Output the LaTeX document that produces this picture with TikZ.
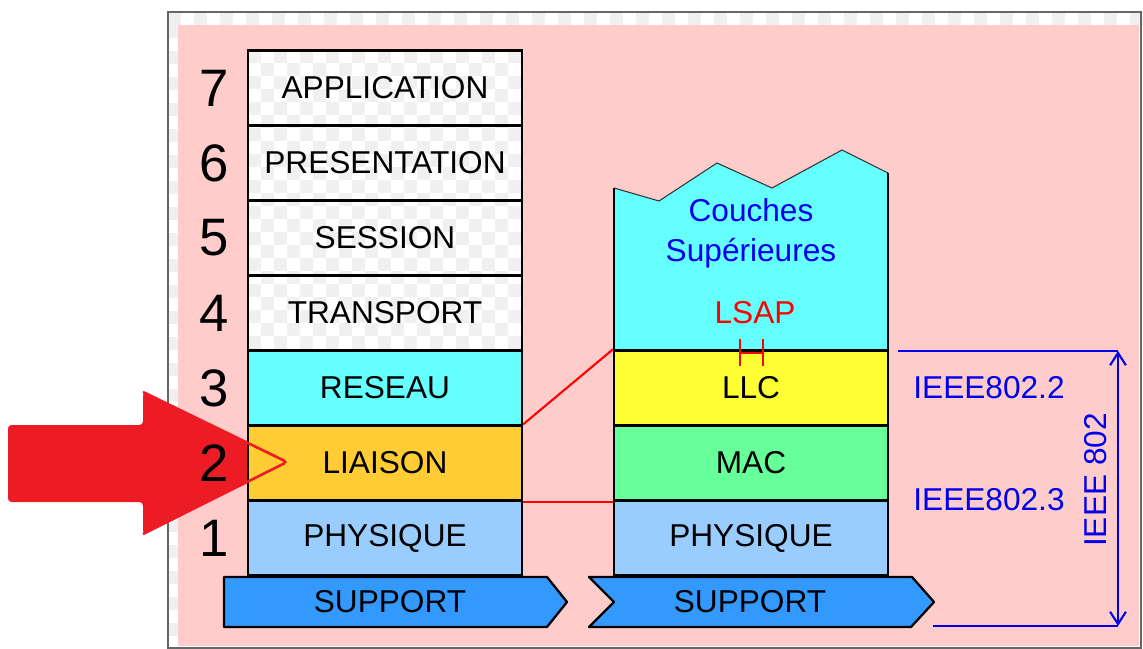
\documentclass[tikz,border=0pt]{standalone}
\usepackage{fontspec}
\setmainfont{Liberation Sans}
\usetikzlibrary{arrows.meta}
\definecolor{pinkbg}{HTML}{FFCCCC}
\definecolor{cyanl}{HTML}{66FFFF}
\definecolor{orangel}{HTML}{FFCC33}
\definecolor{bluel}{HTML}{99CCFF}
\definecolor{yellowl}{HTML}{FFFF33}
\definecolor{greenl}{HTML}{66FF99}
\definecolor{supblue}{HTML}{3399FF}
\definecolor{arrowred}{HTML}{ED1C24}
\definecolor{ieeeblue}{HTML}{0000EE}

\begin{document}
\begin{tikzpicture}[x=0.02cm, y=-0.02cm,
  layer/.style={draw, line width=1.3pt, minimum width=5.48cm, minimum height=1.5cm,
                inner sep=0pt, font=\fontsize{18}{22}\selectfont},
  num/.style={font=\fontsize{30}{34}\selectfont},
  lbl/.style={font=\fontsize{18}{22.7}\selectfont},
  checker/.style={fill=black!6},
  support/.style={draw, line width=1.3pt, fill=supblue, line join=round}]
\useasboundingbox (0,0) rectangle (1143,649);

% cadre
\fill[white] (168,12) rectangle (1141,648);
\foreach \i in {0,2,...,74}
    \fill[checker] (168+13*\i,12) rectangle ++(13,13);
\foreach \j in {1,3,...,48}
    \fill[checker] (168,12+13*\j) rectangle ++(10,13);
\draw[black!60, line width=1pt] (168,12) rectangle (1141,648);
\fill[pinkbg] (178,25) rectangle (1139,646);

% grosse fleche
\fill[arrowred, rounded corners=2pt] (8,425) -- (143,425) -- (143,392) -- (287,462)
    -- (143,534) -- (143,502) -- (8,502) -- cycle;

% couches hautes (damier)
\fill[white] (248,50) rectangle (522,351);
\begin{scope}
\clip (248,50) rectangle (522,351);
\foreach \i in {0,...,21}
  \foreach \j in {0,...,23} {
    \pgfmathtruncatemacro\k{mod(\i+\j,2)}
    \ifnum\k=0 \fill[checker] (248+13*\i,50+13*\j) rectangle ++(13,13); \fi
  }
\end{scope}

\foreach \n/\y/\lab in {7/88/APPLICATION, 6/163/PRESENTATION,
                        5/238/SESSION, 4/313/TRANSPORT}
    \node[layer] (l\n) at (385,\y) {\lab};
\foreach \n/\y/\lab/\col in {3/388/RESEAU/cyanl, 2/463/LIAISON/orangel,
                             1/538/PHYSIQUE/bluel}
    \node[layer, fill=\col] (l\n) at (385,\y) {\lab};

\draw[arrowred, line width=1.5pt, rounded corners=2pt] (143,392) -- (287,462) -- (143,534);

\foreach \n/\y in {7/88, 6/163, 5/238, 4/313, 3/388, 2/463, 1/538}
    \node[num] (d\n) at (214,\y) {\n};

% pile IEEE 802
\fill[cyanl] (614,351) -- (614,188) -- (659,201) -- (717,163) -- (772,188)
    -- (842,150) -- (888,173) -- (888,351) -- cycle;
\draw[black!80, line width=0.6pt] (614,188) -- (659,201) -- (717,163) -- (772,188)
    -- (842,150) -- (888,173);
\draw[line width=1.3pt] (614,351) -- (614,188) (888,173) -- (888,351);

\foreach \nm/\y/\lab/\col in {llc/388/LLC/yellowl, mac/463/MAC/greenl,
                              phy/538/PHYSIQUE/bluel}
    \node[layer, fill=\col] (\nm) at (751,\y) {\lab};

\node[lbl, text=ieeeblue, align=center] (sup) at (751,233) {Couches\\Supérieures};
\node[lbl, text=red] (lsap) at (755,313) {LSAP};
\draw[red, line width=1.2pt] (740,339) -- (740,366) (763,339) -- (763,366)
    (740,353) -- (763,353);

% supports
\draw[support] (224,577) -- (547,577) -- (567,602) -- (547,627) -- (224,627) -- cycle;
\node[lbl] (supg) at (390,602) {SUPPORT};
\draw[support] (589,577) -- (912,577) -- (934,602) -- (911,627) -- (589,627)
    -- (614,602) -- cycle;
\node[lbl] (supd) at (750,602) {SUPPORT};

% correspondance
\draw[red, line width=1.2pt] (l2.north east) -- (llc.north west);
\draw[red, line width=1.2pt] (l2.south east) -- (mac.south west);

% cotes IEEE
\coordinate (ht) at (1118,351);
\coordinate (bs) at (1118,626);
\draw[ieeeblue, line width=1.2pt] (898,351) -- (ht) (933,626) -- (bs);
\draw[ieeeblue, line width=1.2pt, {Straight Barb[length=7pt,width=9pt]}-{Straight Barb[length=7pt,width=9pt]}]
    (ht) -- (bs);
\node[lbl, text=ieeeblue] (i2) at (989,388) {IEEE802.2};
\node[lbl, text=ieeeblue] (i3) at (989,500) {IEEE802.3};
\node[lbl, text=ieeeblue, rotate=90] (i802) at (1096,480) {IEEE 802};
\end{tikzpicture}
\end{document}
